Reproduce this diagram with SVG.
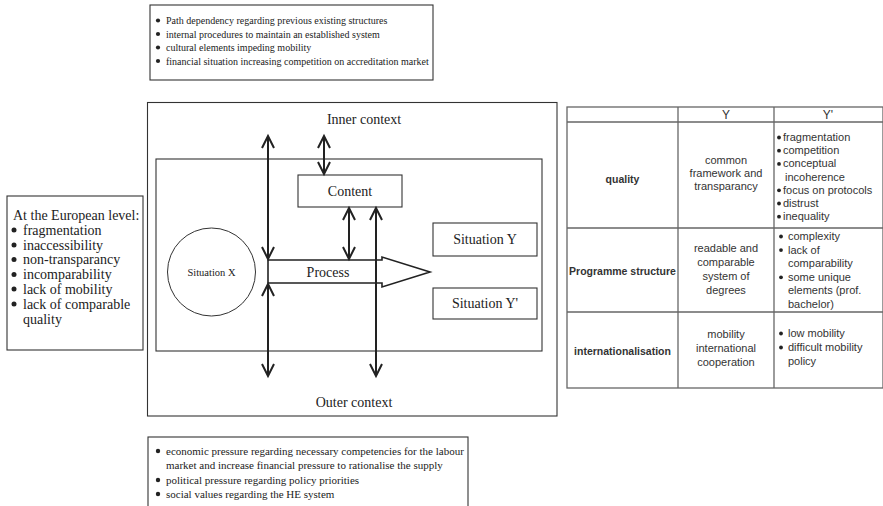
<svg xmlns="http://www.w3.org/2000/svg" width="883" height="506" viewBox="0 0 883 506">
<style>
.box{fill:#fff;stroke:#333;stroke-width:1.1}
.serif{font-family:"Liberation Serif","Times New Roman",serif;fill:#222}
.s10{font-size:10px}
.s11{font-size:11px}
.s14{font-size:14px}
.sans{font-family:"Liberation Sans",Arial,sans-serif;fill:#333;font-size:11px}
.bold{font-weight:bold;font-size:10.5px}
.mid{text-anchor:middle}
.tl{stroke:#666;stroke-width:1.3;fill:none}
.conn{stroke:#222;stroke-width:2;fill:none}
.head{stroke:#222;stroke-width:2;fill:none;stroke-linejoin:miter}
.dot{fill:#222}
</style>

<!-- Top box -->
<g id="top-box">
<rect class="box" x="150" y="5" width="283" height="75"/>
<circle class="dot" cx="158" cy="20.5" r="2.1"/>
<circle class="dot" cx="158" cy="34" r="2.1"/>
<circle class="dot" cx="158" cy="47.5" r="2.1"/>
<circle class="dot" cx="158" cy="61" r="2.1"/>
<text class="serif s10" x="166" y="24">Path dependency regarding previous existing structures</text>
<text class="serif s10" x="166" y="37.5">internal procedures to maintain an established system</text>
<text class="serif s10" x="166" y="51">cultural elements impeding mobility</text>
<text class="serif s10" x="166" y="64.5">financial situation increasing competition on accreditation market</text>
</g>

<!-- Left box -->
<g id="european-level">
<rect class="box" x="7" y="196" width="136" height="154"/>
<text class="serif s14" x="13" y="220">At the European level:</text>
<circle class="dot" cx="14" cy="230" r="2.5"/>
<circle class="dot" cx="14" cy="245" r="2.5"/>
<circle class="dot" cx="14" cy="259.5" r="2.5"/>
<circle class="dot" cx="14" cy="274.5" r="2.5"/>
<circle class="dot" cx="14" cy="289" r="2.5"/>
<circle class="dot" cx="14" cy="304" r="2.5"/>
<text class="serif s14" x="23" y="234.8">fragmentation</text>
<text class="serif s14" x="23" y="249.6">inaccessibility</text>
<text class="serif s14" x="23" y="264.4">non-transparancy</text>
<text class="serif s14" x="23" y="279.2">incomparability</text>
<text class="serif s14" x="23" y="294">lack of mobility</text>
<text class="serif s14" x="23" y="308.8">lack of comparable</text>
<text class="serif s14" x="23" y="323.6">quality</text>
</g>

<!-- Outer context -->
<g id="outer-context">
<rect class="box" x="147.5" y="102.5" width="409.5" height="313.5"/>
<text class="serif s14 mid" x="364" y="124">Inner context</text>
<text class="serif s14 mid" x="354" y="407">Outer context</text>
</g>

<!-- Inner box -->
<g id="inner-context">
<rect class="box" x="156" y="159" width="386" height="192"/>
</g>

<g id="content">
<rect class="box" x="298" y="175" width="104" height="32"/>
<text class="serif s14 mid" x="350" y="196">Content</text>
</g>

<g id="situation-x">
<circle cx="211.5" cy="272" r="44" fill="#fff" stroke="#333" stroke-width="1"/>
<text class="serif mid" style="font-size:10.5px" x="211.5" y="276">Situation X</text>
</g>

<g id="situation-y">
<rect class="box" x="433" y="223" width="104" height="33"/>
<text class="serif s14 mid" x="485" y="244">Situation Y</text>
</g>

<g id="situation-y-prime">
<rect class="box" x="433" y="288" width="104" height="31"/>
<text class="serif s14 mid" x="485" y="308">Situation Y'</text>
</g>

<g id="process">
<polygon points="268,260 382,260 382,257 430,272 382,287 382,283 268,283" fill="#fff" stroke="#222" stroke-width="1.6"/>
<text class="serif s14 mid" x="328" y="277">Process</text>
</g>

<!-- Connectors -->
<g id="connectors">
<line class="conn" x1="268" y1="136" x2="268" y2="259"/>
<polyline class="head" points="262,148 268,136 274,148"/>
<polyline class="head" points="262,247 268,259 274,247"/>

<line class="conn" x1="268" y1="284" x2="268" y2="376"/>
<polyline class="head" points="262,296 268,284 274,296"/>
<polyline class="head" points="262,364 268,376 274,364"/>

<line class="conn" x1="324" y1="136" x2="324" y2="174"/>
<polyline class="head" points="318,148 324,136 330,148"/>
<polyline class="head" points="318,162 324,174 330,162"/>

<line class="conn" x1="349" y1="208" x2="349" y2="259"/>
<polyline class="head" points="343,220 349,208 355,220"/>
<polyline class="head" points="343,247 349,259 355,247"/>

<line class="conn" x1="376" y1="208" x2="376" y2="376"/>
<polyline class="head" points="370,220 376,208 382,220"/>
<polyline class="head" points="370,364 376,376 382,364"/>
</g>

<!-- Bottom box -->
<g id="bottom-box">
<rect class="box" x="148" y="437" width="320" height="80"/>
<circle class="dot" cx="158" cy="451" r="2.2"/>
<circle class="dot" cx="158" cy="480" r="2.2"/>
<circle class="dot" cx="158" cy="494" r="2.2"/>
<text class="serif s11" x="166" y="455">economic pressure regarding necessary competencies for the labour</text>
<text class="serif s11" x="166" y="469">market and increase financial pressure to rationalise the supply</text>
<text class="serif s11" x="166" y="484">political pressure regarding policy priorities</text>
<text class="serif s11" x="166" y="498">social values regarding the HE system</text>
</g>

<!-- Table -->
<g id="table">
<rect class="tl" x="567" y="107" width="316" height="281"/>
<line class="tl" x1="678" y1="107" x2="678" y2="388"/>
<line class="tl" x1="774" y1="107" x2="774" y2="388"/>
<line class="tl" x1="567" y1="122" x2="883" y2="122"/>
<line class="tl" x1="567" y1="228" x2="883" y2="228"/>
<line class="tl" x1="567" y1="312" x2="883" y2="312"/>
<text class="sans mid" style="font-size:12px" x="726" y="119">Y</text>
<text class="sans mid" style="font-size:12px" x="828" y="119">Y'</text>

<text class="sans bold mid" x="622.5" y="183">quality</text>
<text class="sans mid" x="726" y="164">common</text>
<text class="sans mid" x="726" y="177">framework and</text>
<text class="sans mid" x="726" y="190">transparancy</text>
<circle class="dot" cx="779" cy="137.5" r="1.9"/>
<circle class="dot" cx="779" cy="150.7" r="1.9"/>
<circle class="dot" cx="779" cy="163.9" r="1.9"/>
<circle class="dot" cx="779" cy="190.3" r="1.9"/>
<circle class="dot" cx="779" cy="203.5" r="1.9"/>
<circle class="dot" cx="779" cy="216.7" r="1.9"/>
<text class="sans" x="783" y="141">fragmentation</text>
<text class="sans" x="783" y="154.2">competition</text>
<text class="sans" x="783" y="167.4">conceptual</text>
<text class="sans" x="785" y="180.6">incoherence</text>
<text class="sans" x="783" y="193.8">focus on protocols</text>
<text class="sans" x="783" y="207">distrust</text>
<text class="sans" x="783" y="220.2">inequality</text>

<text class="sans bold mid" x="622.5" y="275">Programme structure</text>
<text class="sans mid" x="726" y="252">readable and</text>
<text class="sans mid" x="726" y="266">comparable</text>
<text class="sans mid" x="726" y="280">system of</text>
<text class="sans mid" x="726" y="294">degrees</text>
<circle class="dot" cx="781" cy="236.5" r="1.9"/>
<circle class="dot" cx="781" cy="250.1" r="1.9"/>
<circle class="dot" cx="781" cy="277.3" r="1.9"/>
<text class="sans" x="788" y="240">complexity</text>
<text class="sans" x="788" y="253.6">lack of</text>
<text class="sans" x="788" y="267.2">comparability</text>
<text class="sans" x="788" y="280.8">some unique</text>
<text class="sans" x="788" y="294.4">elements (prof.</text>
<text class="sans" x="788" y="308">bachelor)</text>

<text class="sans bold mid" x="622.5" y="355">internationalisation</text>
<text class="sans mid" x="726" y="338">mobility</text>
<text class="sans mid" x="726" y="352">international</text>
<text class="sans mid" x="726" y="366">cooperation</text>
<circle class="dot" cx="781" cy="333.5" r="1.9"/>
<circle class="dot" cx="781" cy="347.5" r="1.9"/>
<text class="sans" x="788" y="337">low mobility</text>
<text class="sans" x="788" y="351">difficult mobility</text>
<text class="sans" x="788" y="365">policy</text>
</g>
</svg>
